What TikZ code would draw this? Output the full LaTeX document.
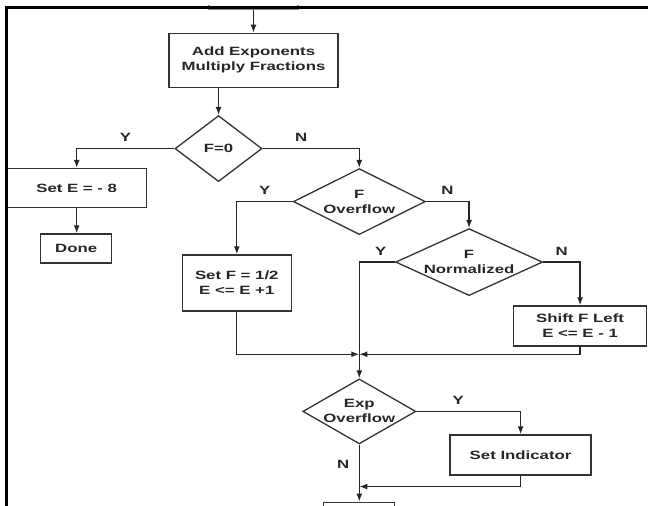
\documentclass[tikz,border=0pt]{standalone}
\usepackage{fontspec}
\setmainfont{Liberation Sans}[FakeStretch=1.4]
\usepackage{tikz}
\usetikzlibrary{positioning,shapes.geometric,arrows.meta}

\begin{document}
\begin{tikzpicture}[x=1pt, y=-1pt, line width=1.3pt, color=black!85,
font=\fontsize{12}{15}\selectfont\bfseries,
>={Latex[length=8pt,width=6pt]},
squarednode/.style={rectangle, draw=black!80, align=center, inner sep=2pt},
diamondnode/.style={diamond, aspect=2, draw=black!80, align=center, inner sep=-8pt},
]
\useasboundingbox (0,0) rectangle (648,506);
\begin{scope}
\clip (0,5.5) rectangle (648,506);

%Nodes
\node[squarednode, minimum width=89pt, minimum height=40pt, draw=black!45] (top) at (253.5,-10.3) {};
\node[squarednode, minimum width=169pt, minimum height=54pt] (add)   [below=22.3pt of top] {Add Exponents\\Multiply Fractions};
\node[diamondnode, minimum width=87pt, minimum height=66pt]  (f0)    [below=27pt of add, xshift=-35pt] {F=0};
\node[squarednode, minimum width=140pt, minimum height=39pt] (setE)  [left=27pt of f0, yshift=-39.5pt] {Set E = - 8};
\node[squarednode, minimum width=71pt, minimum height=29pt]  (done)  [below=25pt of setE, xshift=-0.5pt] {Done};
\node[diamondnode, minimum width=132pt, minimum height=66pt] (fov)   [right=30pt of f0, yshift=-53pt] {F\\Overflow};
\node[squarednode, minimum width=109pt, minimum height=56pt] (setF)  [below=19pt of fov, xshift=-122.5pt] {Set F = 1/2\\E <= E +1};
\node[diamondnode, minimum width=147pt, minimum height=67pt] (fnorm) [right=-31pt of fov, yshift=-60.5pt] {F\\Normalized};
\node[squarednode, minimum width=133pt, minimum height=40pt] (shift) [below=9pt of fnorm, xshift=111pt] {Shift F Left\\E <= E - 1};
\node[diamondnode, minimum width=113pt, minimum height=65pt] (exp)   [below=143pt of fov] {Exp\\Overflow};
\node[squarednode, minimum width=141pt, minimum height=40pt] (setind) [right=33pt of exp, yshift=-43.5pt] {Set Indicator};
\node[squarednode, minimum width=71pt, minimum height=40pt]  (bot)   [below=57pt of exp] {};
\coordinate[above=24pt of exp.north] (join);
\coordinate[below=42pt of exp.south] (join2);

%Lines
\draw[->] (top.south) -- (add.north);
\draw[->] (add.south -| f0.north) -- (f0.north);
\draw[->] (f0.west) -| (setE.north)   node[pos=0.25, above=3pt] {Y};
\draw[->] (f0.east) -| (fov.north)    node[pos=0.2, above=3pt] {N};
\draw[->] (setE.south) -- (done.north -| setE.south);
\draw[->] (fov.west) -| (setF.north)  node[pos=0.25, above=3pt] {Y};
\draw[->] (fov.east) -| (fnorm.north) node[pos=0.25, above=3pt] {N};
\draw[->] (fnorm.west) -| (exp.north) node[pos=0.2, above=3pt] {Y};
\draw[->] (fnorm.east) -| (shift.north) node[pos=0.25, above=3pt] {N};
\draw[->] (setF.south) |- (join);
\draw[->] (shift.south) |- (join);
\draw[->] (exp.east) -| (setind.north) node[pos=0.2, above=3pt] {Y};
\draw[->] (setind.south) |- (join2);
\draw[->] (exp.south) -- (bot.north)  node[pos=0.34, left=6pt] {N};
\end{scope}

%Frame
\draw[line width=3pt, black] (648,7) -- (6,7) -- (6,506);
\end{tikzpicture}
\end{document}
